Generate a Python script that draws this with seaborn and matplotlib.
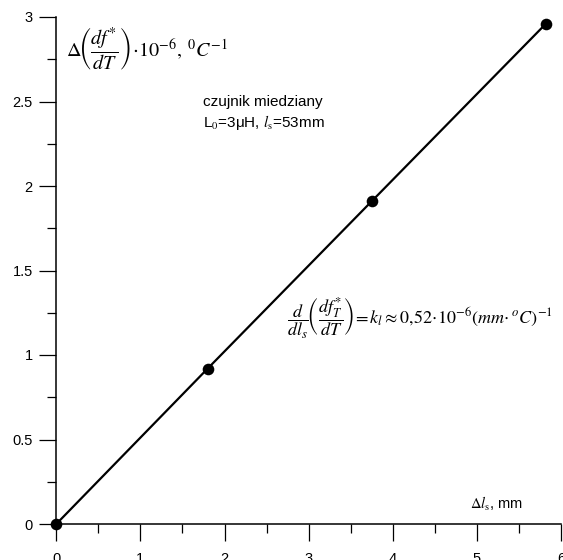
import matplotlib
matplotlib.use("Agg")
import matplotlib.pyplot as plt
import seaborn as sns
import pandas as pd
from matplotlib.ticker import MultipleLocator, FuncFormatter

# Measured shift of the sensor length vs. change of frequency temperature coefficient
delta_ls = [0.0, 1.80, 3.75, 5.82]
delta_coef = [0.0, 0.92, 1.91, 2.96]

x_ticks = [0, 1, 2, 3, 4, 5, 6]
y_ticks = [0, 0.5, 1, 1.5, 2, 2.5, 3]

sns.set_theme(style="ticks")
plt.rcParams["font.family"] = ["Liberation Sans", "DejaVu Sans"]
plt.rcParams["mathtext.fontset"] = "stix"

df = pd.DataFrame({"dl": delta_ls, "coef": delta_coef})

fig = plt.figure(figsize=(5.63, 5.60), dpi=100)
ax = fig.add_axes([56.3 / 563, 36 / 560, (561 - 56.3) / 563, 507 / 560])

sns.lineplot(data=df, x="dl", y="coef", ax=ax, color="black", linewidth=1.6,
             sort=True, estimator=None)
sns.scatterplot(data=df, x="dl", y="coef", ax=ax, color="black", s=70,
                edgecolor="black", linewidth=0, clip_on=False, zorder=5)

ax.set_xlim(0, 6)
ax.set_ylim(0, 3)
ax.set_xticks(x_ticks)
ax.set_yticks(y_ticks)
ax.xaxis.set_minor_locator(MultipleLocator(0.5))
ax.yaxis.set_minor_locator(MultipleLocator(0.25))
fmt = FuncFormatter(lambda v, p: f"{v:g}")
ax.xaxis.set_major_formatter(fmt)
ax.yaxis.set_major_formatter(fmt)

ax.tick_params(axis="both", which="major", length=12, width=0.9,
               color="black", labelsize=10.5, labelcolor="black")
ax.tick_params(axis="both", which="minor", length=6.5, width=0.9, color="black")
ax.tick_params(axis="y", which="major", pad=5)
ax.tick_params(axis="x", which="major", pad=8)

for side in ("top", "right"):
    ax.spines[side].set_visible(False)
for side in ("left", "bottom"):
    ax.spines[side].set_color("black")
    ax.spines[side].set_linewidth(1.1)

ax.set_xlabel("")
ax.set_ylabel("")

# Axis titles written inside the plot area
fig.text(66 / 563, 1 - 49 / 560,
         r"$\Delta\!\left(\dfrac{df^{*}}{dT}\right)\!\cdot\!10^{-6},\,{}^{0}C^{-1}$",
         fontsize=14.5, ha="left", va="center", color="black")

fig.text(470 / 563, 1 - 504 / 560, r"$\Delta l_{\mathrm{s}}$, mm",
         fontsize=10.5, ha="left", va="center", color="black")

fig.text(203 / 563, 1 - 102 / 560, "czujnik miedziany",
         fontsize=11, ha="left", va="center", color="black")
fig.text(203 / 563, 1 - 123 / 560, r"L$_{\mathrm{0}}$=3μH, $l_{\mathrm{s}}$=53mm",
         fontsize=11, ha="left", va="center", color="black")

fig.text(287 / 563, 1 - 318 / 560,
         r"$\dfrac{d}{dl_s}\!\left(\dfrac{df_T^{*}}{dT}\right)\!=k_l\approx0{,}52\!\cdot\!10^{-6}\left(mm\!\cdot{}^{o}C\right)^{-1}$",
         fontsize=13, ha="left", va="center", color="black")

fig.savefig("out.png", dpi=100)
